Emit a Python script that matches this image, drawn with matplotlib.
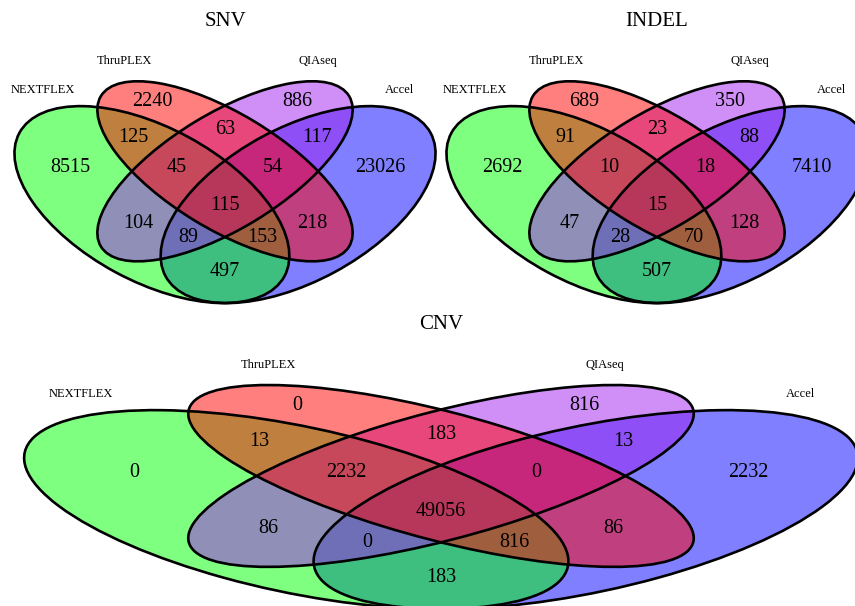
import matplotlib
matplotlib.use("Agg")
import matplotlib.pyplot as plt
from matplotlib.patches import Ellipse

# ---------------- data ----------------
set_names = ["NEXTFLEX", "ThruPLEX", "QIAseq", "Accel"]
panel_titles = ["SNV", "INDEL", "CNV"]
# region order: N, T, Q, A, NT, TQ, QA, NTQ, TQA, NTQA, NQ, TA, NQA, NTA, NA
region_keys = ["N", "T", "Q", "A", "NT", "TQ", "QA", "NTQ", "TQA", "NTQA",
               "NQ", "TA", "NQA", "NTA", "NA"]
snv_counts = [8515, 2240, 886, 23026, 125, 63, 117, 45, 54, 115, 104, 218, 89, 153, 497]
indel_counts = [2692, 689, 350, 7410, 91, 23, 88, 10, 18, 15, 47, 128, 28, 70, 507]
cnv_counts = [0, 0, 816, 2232, 13, 183, 13, 2232, 0, 49056, 86, 86, 0, 816, 183]

# ---------------- layout (design space 450 x 310, y downwards) ----------------
# ellipse: (cx, cy, width, height, angle)
ell_green = (151.9, 204.6, 301.3, 153.5, 28.41)
ell_red = (225.0, 171.3, 290.2, 115.7, 31.23)
ell_blue = (450 - ell_green[0], ell_green[1], ell_green[2], ell_green[3], -ell_green[4])
ell_purple = (450 - ell_red[0], ell_red[1], ell_red[2], ell_red[3], -ell_red[4])

colors = {"N": "#00FF00", "T": "#FF0000", "Q": "#A020F0", "A": "#0000FF"}
ellipses = {"N": ell_green, "T": ell_red, "Q": ell_purple, "A": ell_blue}
draw_order = ["A", "N", "Q", "T"]

label_pos = {
    "N": (70, 168), "A": (380, 168), "T": (152.5, 102), "Q": (297.5, 102),
    "NT": (133, 137), "QA": (317, 137), "TQ": (225, 130),
    "NTQ": (177, 168), "TQA": (273, 168), "NTQA": (225, 206),
    "NQ": (138, 223), "TA": (312, 223), "NQA": (188, 237), "NTA": (262, 237),
    "NA": (225, 272),
}
set_label_pos = [(43, 90, "center"), (152, 61, "right"), (298, 61, "left"), (414, 90, "right")]

W, H = 855, 606
fig = plt.figure(figsize=(W / 100, H / 100), dpi=100)
serif = ["Liberation Serif", "DejaVu Serif"]


def panel(px0, px1, py0, py1, title, counts):
    ax = fig.add_axes([px0 / W, 1 - py1 / H, (px1 - px0) / W, (py1 - py0) / H])
    ax.set_xlim(0, 450)
    ax.set_ylim(310, 0)
    ax.axis("off")
    for k in draw_order:
        cx, cy, w, h, a = ellipses[k]
        ax.add_patch(Ellipse((cx, cy), w, h, angle=a, facecolor=colors[k],
                             alpha=0.5, edgecolor="none", clip_on=False))
    for k in draw_order:
        cx, cy, w, h, a = ellipses[k]
        ax.add_patch(Ellipse((cx, cy), w, h, angle=a, facecolor="none",
                             edgecolor="black", lw=1.9, clip_on=False))
    for key, val in zip(region_keys, counts):
        x, y = label_pos[key]
        ax.text(x, y, str(val), ha="center", va="center", fontsize=14.5,
                family=serif, color="black")
    for name, (x, y, ha) in zip(set_names, set_label_pos):
        ax.text(x, y, name, ha=ha, va="center", fontsize=9, family=serif)
    ax.text(225, 21, title, ha="center", va="center", fontsize=15, family=serif)
    return ax


panel(0, 450, 0, 310, panel_titles[0], snv_counts)
panel(432, 882, 0, 310, panel_titles[1], indel_counts)
cx_px, kx = 441, 1.98
cy_px, ky = 511, 1.01
panel(cx_px - 225 * kx, cx_px + 225 * kx, cy_px - 206 * ky, cy_px + (310 - 206) * ky,
      panel_titles[2], cnv_counts)

fig.savefig("out.png", dpi=100)
